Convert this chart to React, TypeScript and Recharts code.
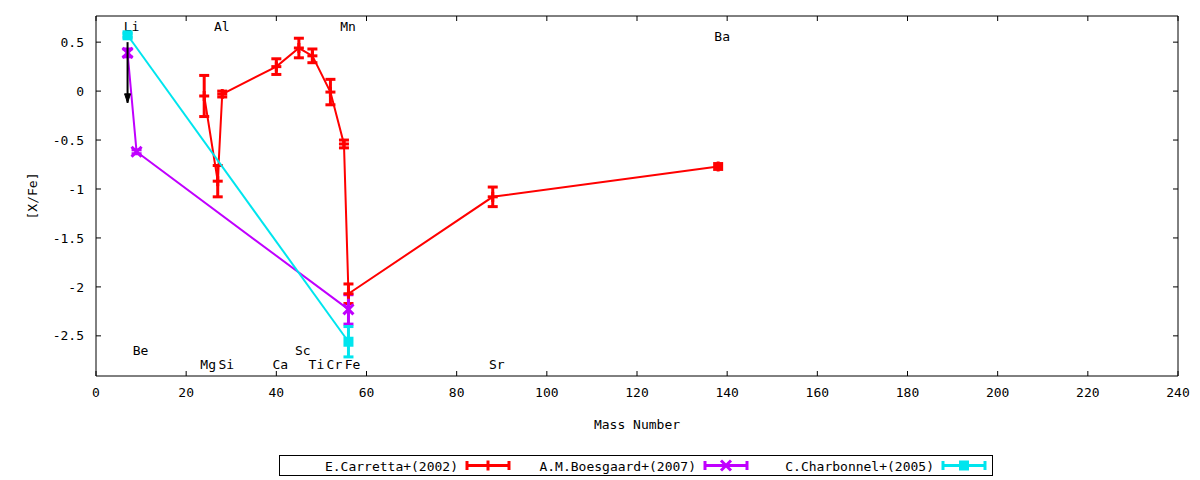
import { ScatterChart, Scatter, XAxis, YAxis, ErrorBar, Legend } from "recharts";

// Carretta+ (2002)
const carrettaMass = [24, 27, 28, 40, 45, 48, 52, 55, 56, 88, 138];
const carrettaXFe = [-0.05, -0.92, -0.03, 0.25, 0.44, 0.36, -0.01, -0.54, -2.07, -1.08, -0.77];
const carrettaErr = [0.21, 0.16, 0.03, 0.08, 0.1, 0.07, 0.13, 0.04, 0.1, 0.1, 0.03];

// Boesgaard+ (2007)
const boesgaardMass = [7, 9, 56];
const boesgaardXFe = [0.39, -0.62, -2.23];
const boesgaardErr = [0.04, 0.02, 0.15];

// Charbonnel+ (2005)
const charbonnelMass = [7, 56];
const charbonnelXFe = [0.57, -2.56];
const charbonnelErr = [0.02, 0.155];

// Li upper limit arrow
const limitMass = [7, 7];
const limitXFe = [0.5, -0.12];

// element labels
const elements = ["Li", "Be", "Mg", "Al", "Si", "Ca", "Sc", "Ti", "Cr", "Mn", "Fe", "Sr", "Ba"];
const elementMass = [7, 9, 24, 27, 28, 40, 45, 48, 52, 55, 56, 88, 138];
const elementLabelY = [0.664, -2.65, -2.79, 0.664, -2.79, -2.79, -2.65, -2.79, -2.79, 0.664, -2.79, -2.79, 0.56];

const xTicks = [0, 20, 40, 60, 80, 100, 120, 140, 160, 180, 200, 220, 240];
const yTicks = [-2.5, -2, -1.5, -1, -0.5, 0, 0.5];

const seriesNames = ["E.Carretta+(2002)", "A.M.Boesgaard+(2007)", "C.Charbonnel+(2005)"];
const seriesColors = ["#ff0000", "#c000ff", "#00e5ee"];

const FONT = "'DejaVu Sans Mono', monospace";
const X_DOMAIN = [0, 240];
const Y_DOMAIN = [-2.91, 0.767];

const toRows = (mass: number[], xfe: number[], err?: number[]) =>
  mass.map((m, i) => ({ mass: m, xfe: xfe[i], err: err ? err[i] : 0 }));

const carretta = toRows(carrettaMass, carrettaXFe, carrettaErr);
const boesgaard = toRows(boesgaardMass, boesgaardXFe, boesgaardErr);
const charbonnel = toRows(charbonnelMass, charbonnelXFe, charbonnelErr);
const limit = toRows(limitMass, limitXFe);
const labels = elements.map((name, i) => ({ mass: elementMass[i], xfe: elementLabelY[i], name }));

function marker(kind: number, cx: number, cy: number, color: string) {
  if (kind === 0) {
    return (
      <g>
        <line x1={cx - 5} y1={cy} x2={cx + 5} y2={cy} stroke={color} strokeWidth={3} />
        <line x1={cx} y1={cy - 5} x2={cx} y2={cy + 5} stroke={color} strokeWidth={3} />
      </g>
    );
  }
  if (kind === 1) {
    return (
      <g>
        <line x1={cx - 5} y1={cy - 5} x2={cx + 5} y2={cy + 5} stroke={color} strokeWidth={3} />
        <line x1={cx - 5} y1={cy + 5} x2={cx + 5} y2={cy - 5} stroke={color} strokeWidth={3} />
      </g>
    );
  }
  return <rect x={cx - 5} y={cy - 5} width={10} height={10} fill={color} />;
}

const shapeFor = (kind: number) => (props: any) => marker(kind, props.cx, props.cy, seriesColors[kind]);

const ArrowShape = (props: any) => {
  const { cx, cy, index } = props;
  if (index !== 1) return <g />;
  return <path d={`M${cx - 3},${cy - 9} L${cx},${cy} L${cx + 3},${cy - 9} Z`} fill="#000" stroke="#000" strokeWidth={1} />;
};

const LabelShape = (props: any) => (
  <text
    x={props.cx + 4}
    y={props.cy}
    textAnchor="middle"
    dominantBaseline="central"
    fontFamily={FONT}
    fontSize={13}
    fill="#000"
  >
    {props.payload.name}
  </text>
);

const LegendBox = () => (
  <svg width={714} height={21} style={{ display: "block" }}>
    <rect x={0.5} y={0.5} width={713} height={20} fill="none" stroke="#000" strokeWidth={1} />
    {seriesNames.map((name, i) => {
      const x0 = i * 238;
      const c = seriesColors[i];
      const mid = x0 + 209;
      return (
        <g key={name}>
          <text x={x0 + 179} y={11} textAnchor="end" dominantBaseline="central" fontFamily={FONT} fontSize={13} fill="#000">
            {name}
          </text>
          <line x1={x0 + 187} y1={10.5} x2={x0 + 231} y2={10.5} stroke={c} strokeWidth={3} />
          <line x1={x0 + 188} y1={6} x2={x0 + 188} y2={15} stroke={c} strokeWidth={3} />
          <line x1={x0 + 230} y1={6} x2={x0 + 230} y2={15} stroke={c} strokeWidth={3} />
          {marker(i, mid, 10.5, c)}
        </g>
      );
    })}
  </svg>
);

const tickStyle = { fontFamily: FONT, fontSize: 13, fill: "#000" };
const blank = () => "";

export default function App() {
  return (
    <div style={{ position: "absolute", left: 0, top: 0, background: "#fff" }}>
      <ScatterChart width={1200} height={480} margin={{ top: 16, right: 22, bottom: 4, left: 0 }}>
        {/* frame with inward tick marks (mirrored axes, declared first so they sit on the plot edge) */}
        <XAxis xAxisId={0} type="number" dataKey="mass" domain={X_DOMAIN} ticks={xTicks} allowDataOverflow
          height={1} mirror stroke="#000" tickSize={5} tickFormatter={blank} />
        <XAxis xAxisId="top" orientation="top" type="number" dataKey="mass" domain={X_DOMAIN} ticks={xTicks}
          allowDataOverflow height={1} mirror stroke="#000" tickSize={5} tickFormatter={blank} />
        <YAxis yAxisId={0} type="number" dataKey="xfe" domain={Y_DOMAIN} ticks={yTicks} allowDataOverflow
          width={1} mirror stroke="#000" tickSize={5} tickFormatter={blank} />
        <YAxis yAxisId="right" orientation="right" type="number" dataKey="xfe" domain={Y_DOMAIN} ticks={yTicks}
          allowDataOverflow width={1} mirror stroke="#000" tickSize={5} tickFormatter={blank} />

        {/* labelled axes */}
        <XAxis
          xAxisId="label"
          type="number"
          dataKey="mass"
          domain={X_DOMAIN}
          ticks={xTicks}
          allowDataOverflow
          height={79}
          axisLine={false}
          tickLine={false}
          tickSize={0}
          tickMargin={12}
          tick={tickStyle}
          label={{
            content: (p: any) => (
              <text
                x={p.viewBox.x + p.viewBox.width / 2}
                y={p.viewBox.y + 48}
                textAnchor="middle"
                dominantBaseline="central"
                fontFamily={FONT}
                fontSize={13}
              >
                Mass Number
              </text>
            ),
          }}
        />
        <YAxis
          yAxisId="label"
          type="number"
          dataKey="xfe"
          domain={Y_DOMAIN}
          ticks={yTicks}
          allowDataOverflow
          width={96}
          axisLine={false}
          tickLine={false}
          tickSize={0}
          tickMargin={12}
          tick={tickStyle}
          label={{
            content: (p: any) => (
              <text
                x={32}
                y={p.viewBox.y + p.viewBox.height / 2}
                textAnchor="middle"
                dominantBaseline="central"
                fontFamily={FONT}
                fontSize={13}
                transform={`rotate(-90 32 ${p.viewBox.y + p.viewBox.height / 2})`}
              >
                [X/Fe]
              </text>
            ),
          }}
        />
        <Legend verticalAlign="bottom" height={21} wrapperStyle={{ left: 279, width: 714 }} content={() => <LegendBox />} />
        <Scatter
          name="labels"
          data={labels}
          shape={LabelShape}
          legendType="none"
          isAnimationActive={false}
        />
        <Scatter
          name={seriesNames[0]}
          data={carretta}
          line={{ stroke: seriesColors[0], strokeWidth: 2 }}
          lineType="joint"
          shape={shapeFor(0)}
          fill={seriesColors[0]}
          isAnimationActive={false}
        >
          <ErrorBar dataKey="err" direction="y" width={5} strokeWidth={3} stroke={seriesColors[0]} isAnimationActive={false} />
        </Scatter>
        <Scatter
          name={seriesNames[1]}
          data={boesgaard}
          line={{ stroke: seriesColors[1], strokeWidth: 2 }}
          lineType="joint"
          shape={shapeFor(1)}
          fill={seriesColors[1]}
          isAnimationActive={false}
        >
          <ErrorBar dataKey="err" direction="y" width={5} strokeWidth={3} stroke={seriesColors[1]} isAnimationActive={false} />
        </Scatter>
        <Scatter
          name="limit"
          data={limit}
          line={{ stroke: "#000", strokeWidth: 2 }}
          lineType="joint"
          shape={ArrowShape}
          legendType="none"
          isAnimationActive={false}
        />
        <Scatter
          name={seriesNames[2]}
          data={charbonnel}
          line={{ stroke: seriesColors[2], strokeWidth: 2 }}
          lineType="joint"
          shape={shapeFor(2)}
          fill={seriesColors[2]}
          isAnimationActive={false}
        >
          <ErrorBar dataKey="err" direction="y" width={5} strokeWidth={3} stroke={seriesColors[2]} isAnimationActive={false} />
        </Scatter>
      </ScatterChart>
    </div>
  );
}
